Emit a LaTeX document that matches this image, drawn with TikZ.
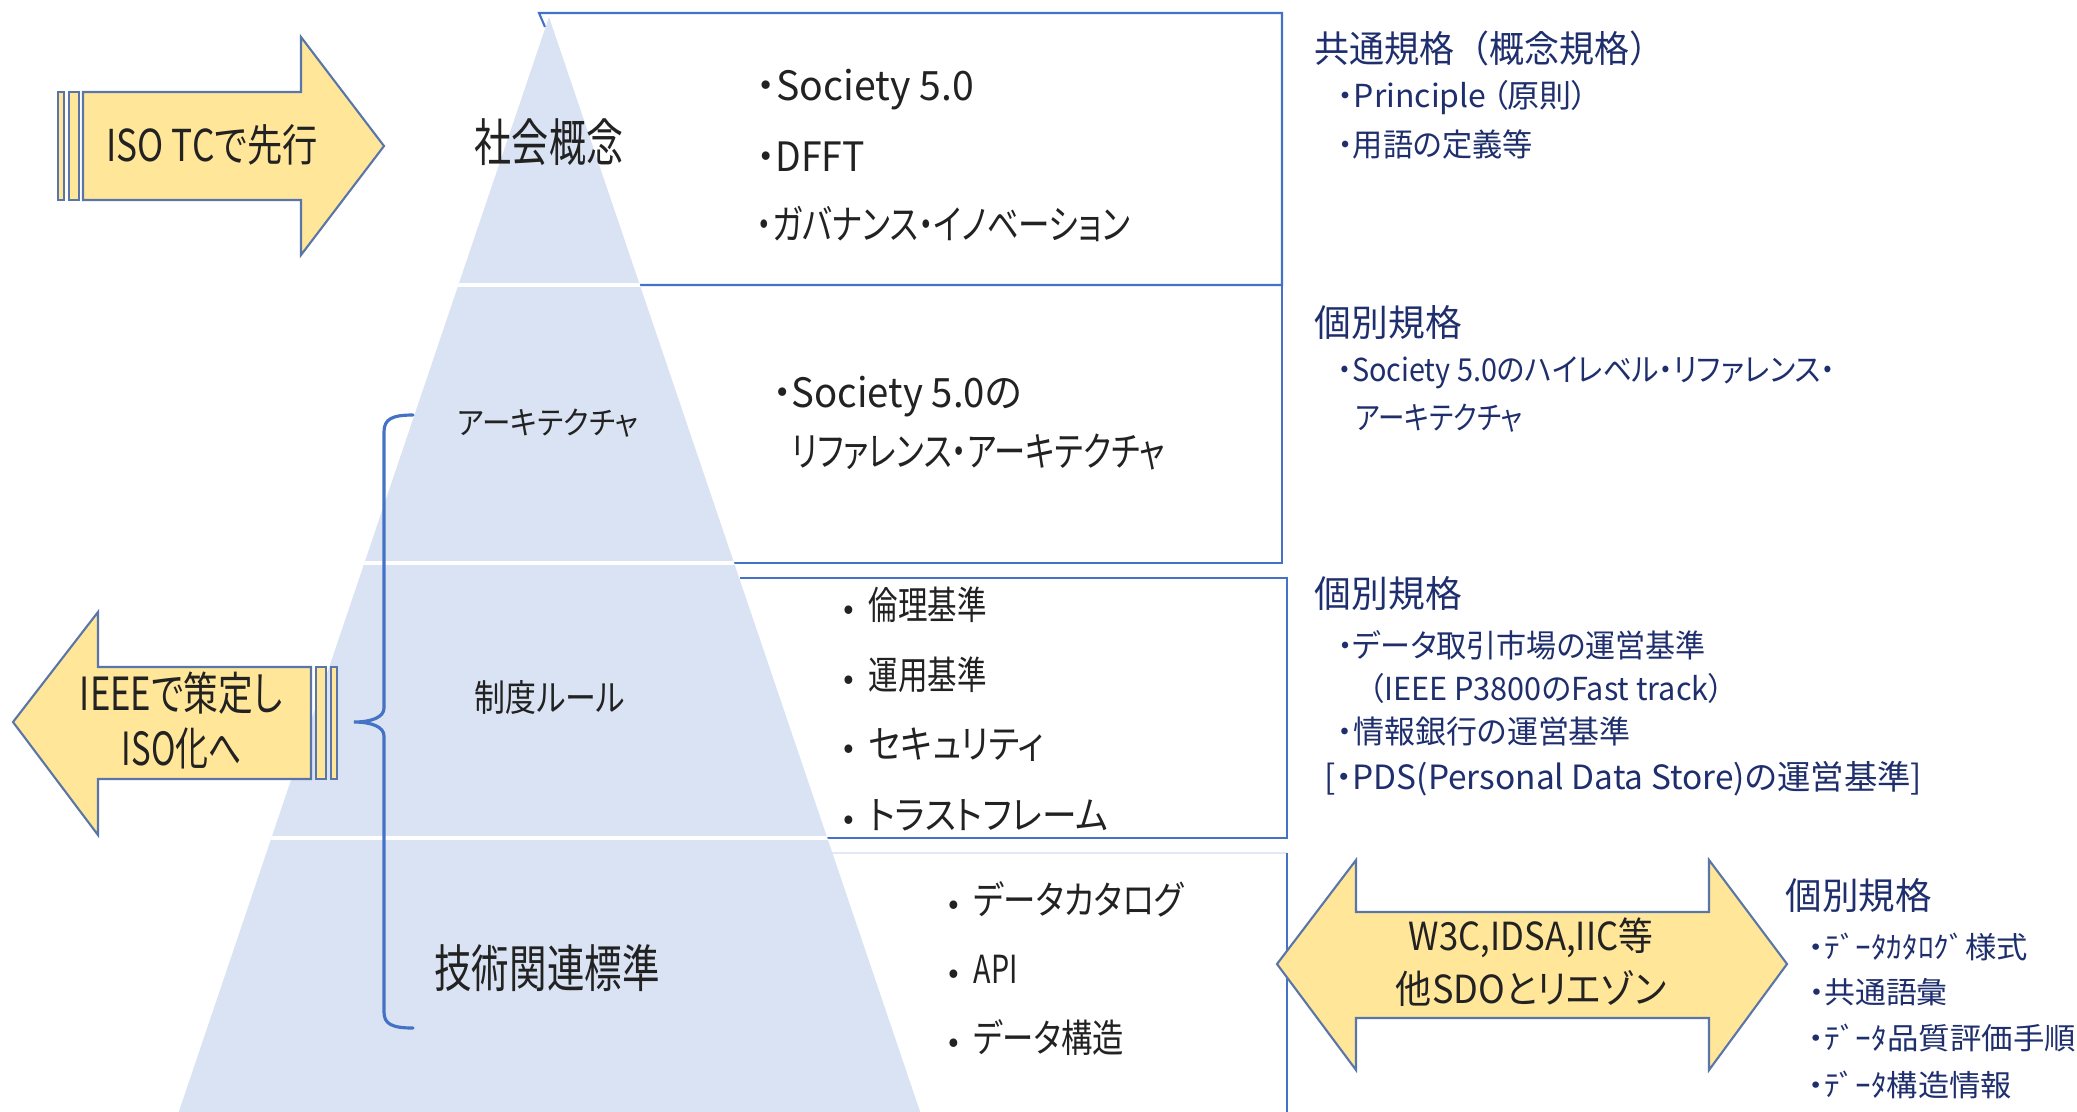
\documentclass[tikz,border=0pt]{standalone}
\usepackage{fontspec}
\usepackage{graphicx}
\setmainfont{Noto Sans CJK JP}[RawFeature=+palt]
\newfontfamily\jpfull{Noto Sans CJK JP}
\definecolor{boxblue}{HTML}{4472C4}
\definecolor{pyrfill}{HTML}{DAE3F3}
\definecolor{arrowfill}{HTML}{FFE699}
\definecolor{arrowedge}{HTML}{5A76A8}
\definecolor{navy}{HTML}{1F2F6E}
\definecolor{ink}{HTML}{222222}
\definecolor{faint}{HTML}{E3E9F4}
\newcommand{\tx}[3]{\fontsize{#1}{#1}\selectfont\resizebox{#2}{\height}{#3}}
\newcommand{\bul}[2]{\makebox[#2][c]{\fontsize{#1}{#1}\selectfont •}}
\begin{document}
\begin{tikzpicture}[x=0.01cm, y=-0.01cm,
  lbl/.style={inner sep=0pt, text=ink},
  lw/.style={lbl, anchor=west},
  nv/.style={inner sep=0pt, text=navy, anchor=west},
  boxline/.style={draw=boxblue, line width=0.6pt},
  arrowshape/.style={fill=arrowfill, draw=arrowedge, line width=0.6pt, line join=miter},
  sep/.style={draw=white, line width=0.9pt},
  brace/.style={draw=boxblue, line width=0.9pt, line cap=round}]
\useasboundingbox (0,0) rectangle (2077,1111);
\fill[white] (0,0) rectangle (2077,1111);
\begin{scope}
\clip (0,0) rectangle (2077,1111);
% boxes
\draw[boxline] (545,27) -- (539,13) -- (1282,13) -- (1282,285) -- (640,285);
\draw[boxline] (1282,285) -- (1282,563) -- (734,563);
\draw[boxline] (740,578) -- (1287,578) -- (1287,838) -- (827,838);
\draw[draw=faint, line width=0.6pt] (832,853) -- (1287,853);
\draw[boxline] (1287,853) -- (1287,1120);
% pyramid
\fill[pyrfill] (549,17) -- (950,1200) -- (149,1200) -- cycle;
\begin{scope}
\clip (549,17) -- (950,1200) -- (149,1200) -- cycle;
\draw[sep] (100,285) -- (1000,285);
\draw[sep] (100,563) -- (1000,563);
\draw[sep] (100,838) -- (1000,838);
\end{scope}
\end{scope}
% pyramid labels
\node[lbl] (n1) at (549,142) {\tx{14.5pt}{1.48cm}{社会概念}};
\node[lbl] (n2) at (548,423) {\tx{9pt}{1.80cm}{アーキテクチャ}};
\node[lbl] (n3) at (550,697) {\tx{10.5pt}{1.50cm}{制度ルール}};
\node[lbl] (n4) at (547,968) {\tx{14.5pt}{2.25cm}{技術関連標準}};
% box 1
\node[lw] (b1a) at (756,90) {\tx{11.5pt}{2.17cm}{・Society 5.0}};
\node[lw] (b1b) at (756,157) {\tx{11.5pt}{1.08cm}{・DFFT}};
\node[lw] (b1c) at (756,224) {\tx{11.5pt}{3.73cm}{・ガバナンス・イノベーション}};
% box 2
\node[lw] (b2a) at (772,397) {\tx{11.5pt}{2.49cm}{・Society 5.0の}};
\node[lw] (b2b) at (791,452) {\tx{11.5pt}{3.73cm}{リファレンス・アーキテクチャ}};
% box 3
\node[lw] (c1) at (829,605) {\bul{9pt}{0.39cm}\tx{11pt}{1.18cm}{倫理基準}};
\node[lw] (c2) at (829,675) {\bul{9pt}{0.39cm}\tx{11pt}{1.18cm}{運用基準}};
\node[lw] (c3) at (829,745) {\bul{9pt}{0.39cm}\tx{11pt}{1.75cm}{セキュリティ}};
\node[lw] (c4) at (829,815) {\bul{9pt}{0.39cm}\tx{11pt}{2.39cm}{トラストフレーム}};
% box 4
\node[lw] (d1) at (933,899) {\bul{9pt}{0.40cm}\tx{11pt}{2.10cm}{データカタログ}};
\node[lw] (d2) at (933,969) {\bul{9pt}{0.40cm}\tx{11pt}{0.44cm}{API}};
\node[lw] (d3) at (933,1038) {\bul{9pt}{0.40cm}\tx{11pt}{1.50cm}{データ構造}};
% right column
\node[nv] (r1) at (1314,48) {\jpfull\tx{10.5pt}{3.50cm}{共通規格（概念規格）}};
\node[nv] (r2) at (1337,98) {\tx{9pt}{2.50cm}{・Principle\,（原則）}};
\node[nv] (r3) at (1337,144) {\tx{9pt}{1.95cm}{・用語の定義等}};
\node[nv] (r4) at (1314,322) {\tx{10.5pt}{1.47cm}{個別規格}};
\node[nv] (r5) at (1337,373) {\tx{9pt}{4.97cm}{・Society 5.0のハイレベル・リファレンス・}};
\node[nv] (r6) at (1355,418) {\tx{9pt}{1.67cm}{アーキテクチャ}};
\node[nv] (r7) at (1314,593) {\tx{10.5pt}{1.47cm}{個別規格}};
\node[nv] (r8) at (1337,645) {\tx{9pt}{3.68cm}{・データ取引市場の運営基準}};
\node[nv] (r9) at (1368,688) {\tx{9pt}{3.55cm}{（IEEE P3800のFast track）}};
\node[nv] (r10) at (1337,731) {\tx{9pt}{2.93cm}{・情報銀行の運営基準}};
\node[nv] (r11) at (1324,779) {\tx{9.5pt}{5.97cm}{[・PDS(Personal Data Store)の運営基準]}};
\node[nv] (r12) at (1785,895) {\tx{10.5pt}{1.46cm}{個別規格}};
\node[nv] (r13) at (1808,947) {\tx{8.5pt}{2.19cm}{・ﾃﾞｰﾀｶﾀﾛｸﾞ様式}};
\node[nv] (r14) at (1808,992) {\tx{8.5pt}{1.39cm}{・共通語彙}};
\node[nv] (r15) at (1808,1038) {\tx{8.5pt}{2.67cm}{・ﾃﾞｰﾀ品質評価手順}};
\node[nv] (r16) at (1808,1085) {\tx{8.5pt}{2.03cm}{・ﾃﾞｰﾀ構造情報}};
% brace
\draw[brace] (413,415) .. controls (392,415) and (384,419) .. (384,432) -- (384,708)
  .. controls (384,717) and (372,722) .. (354,722)
  .. controls (372,722) and (384,727) .. (384,736) -- (384,1012)
  .. controls (384,1024) and (392,1028) .. (413,1028);
% right arrow (ISO TC)
\draw[arrowshape] (58,92) rectangle (64,200);
\draw[arrowshape] (69,92) rectangle (79,200);
\draw[arrowshape] (83,92) -- (301,92) -- (301,37) -- (384,146) -- (301,255) -- (301,200) -- (83,200) -- cycle;
\node[lbl] (a1) at (212,145) {\tx{12.5pt}{2.11cm}{ISO TCで先行}};
% left arrow (IEEE)
\draw[arrowshape] (13,722) -- (98,612) -- (98,667) -- (311,667) -- (311,779) -- (98,779) -- (98,835) -- cycle;
\draw[arrowshape] (316,667) rectangle (326,779);
\draw[arrowshape] (331,667) rectangle (337,779);
\node[lbl] (a2) at (181,693) {\tx{13pt}{2.02cm}{IEEEで策定し}};
\node[lbl] (a3) at (182,748) {\tx{13pt}{1.20cm}{ISO化へ}};
% double arrow
\draw[arrowshape] (1277,964) -- (1356,860) -- (1356,912) -- (1709,912) -- (1709,860) -- (1787,964)
  -- (1709,1070) -- (1709,1018) -- (1356,1018) -- (1356,1070) -- cycle;
\node[lbl] (a4) at (1531,938) {\tx{11pt}{2.44cm}{W3C,IDSA,IIC等}};
\node[lbl] (a5) at (1531,988) {\tx{11pt}{2.70cm}{他SDOとリエゾン}};
\end{tikzpicture}
\end{document}
